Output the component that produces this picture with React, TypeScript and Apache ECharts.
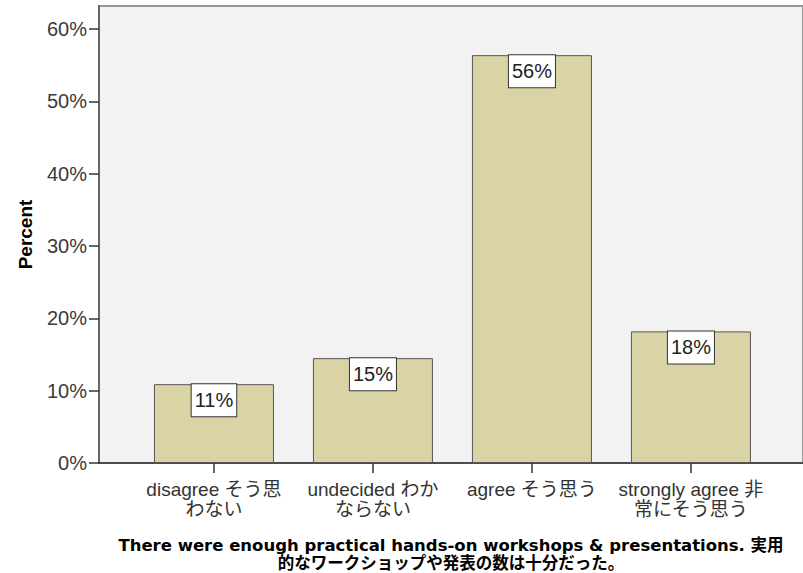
import React, { useEffect, useRef } from "react";
import * as echarts from "echarts";

const categories = [
  "disagree そう思\nわない",
  "undecided わか\nならない",
  "agree そう思う",
  "strongly agree 非\n常にそう思う",
];
const positions = [1, 2, 3, 4];
const percents = [10.9, 14.5, 56.4, 18.2];
const barLabels = ["11%", "15%", "56%", "18%"];
const xTitle =
  "There were enough practical hands-on workshops & presentations. 実用\n的なワークショップや発表の数は十分だった。";
const yTitle = "Percent";

const FONT = "Arial, 'Liberation Sans', 'Noto Sans CJK JP', sans-serif";

export default function App() {
  const ref = useRef<HTMLDivElement>(null);
  useEffect(() => {
    if (!ref.current) return;
    const chart = echarts.init(ref.current, undefined, { renderer: "svg" });
    chart.setOption({
      animation: false,
      textStyle: { fontFamily: FONT },
      grid: {
        left: 99,
        right: 0,
        top: 6,
        bottom: 110,
        containLabel: false,
        outerBoundsMode: "none",
        show: true,
        backgroundColor: "#f2f2f2",
        borderColor: "#999999",
        borderWidth: 2,
      },
      xAxis: {
        type: "value",
        min: 0.277,
        max: 4.705,
        splitLine: { show: false },
        axisLine: { show: true, lineStyle: { color: "#333333", width: 1.5 } },
        axisTick: {
          show: true,
          customValues: positions,
          length: 10,
          lineStyle: { color: "#333333", width: 1.5 },
        },
        axisLabel: {
          customValues: positions,
          formatter: (v: number) => categories[Math.round(v) - 1] ?? "",
          fontSize: 19,
          color: "#333333",
          lineHeight: 20,
          margin: 16,
          fontFamily: FONT,
        },
        name: xTitle,
        nameLocation: "middle",
        nameGap: 73,
        nameTextStyle: {
          fontSize: 16.5,
          fontWeight: "bold",
          color: "#000000",
          lineHeight: 18,
          fontFamily: "'DejaVu Sans', 'Noto Sans CJK JP', sans-serif",
        },
      },
      yAxis: {
        type: "value",
        min: 0,
        max: 63.2,
        interval: 10,
        splitLine: { show: false },
        axisLine: { show: true, lineStyle: { color: "#666666", width: 2 } },
        axisTick: { show: true, length: 10, lineStyle: { color: "#333333", width: 1.5 } },
        axisLabel: {
          formatter: (v: number) => (v > 60.5 ? "" : v + "%"),
          showMaxLabel: false,
          fontSize: 20,
          color: "#3a3a3a",
          margin: 12,
          fontFamily: FONT,
        },
        name: yTitle,
        nameLocation: "middle",
        nameGap: 64,
        nameTextStyle: {
          fontSize: 19,
          fontWeight: "bold",
          color: "#000000",
          fontFamily: FONT,
        },
      },
      series: [
        {
          type: "bar",
          barWidth: 120,
          data: positions.map((x, i) => [x, percents[i]]),
          itemStyle: { color: "#d9d3a5", borderColor: "#555555", borderWidth: 1 },
          label: {
            show: true,
            position: "insideTop",
            distance: 0,
            formatter: (p: any) => barLabels[p.dataIndex],
            fontSize: 20,
            lineHeight: 22,
            color: "#222222",
            backgroundColor: "#ffffff",
            borderColor: "#333333",
            borderWidth: 1,
            padding: [5, 3, 5, 3],
            fontFamily: FONT,
          },
        },
      ],
    });
    return () => chart.dispose();
  }, []);
  return (
    <div
      ref={ref}
      style={{ position: "fixed", left: 0, top: 0, width: 803, height: 573, background: "#ffffff" }}
    />
  );
}
